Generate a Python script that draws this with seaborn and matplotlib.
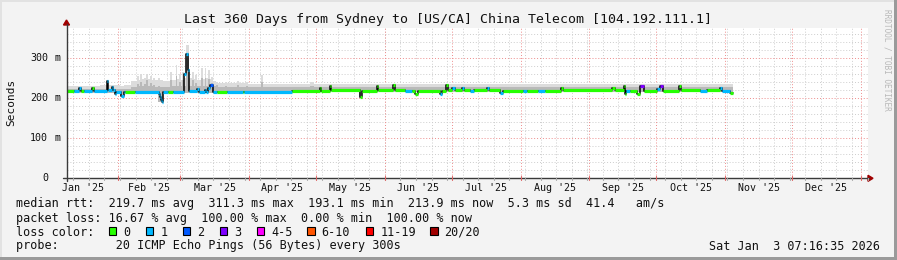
import numpy as np
import pandas as pd
import matplotlib
matplotlib.use("Agg")
import matplotlib.pyplot as plt
import seaborn as sns
from matplotlib.patches import Rectangle, Polygon
from matplotlib.lines import Line2D
from matplotlib.transforms import blended_transform_factory

# ---------------- data (day 0 = 2025-01-01) ----------------
median_day = [8.2, 11.5, 13.5, 14.3, 16.0, 19.3, 20.3, 26.0, 26.6, 28.2, 29.0, 29.6,
              30.3, 32.6, 33.6, 34.2, 38.8, 49.3, 49.9, 50.4, 50.9, 51.4, 53.6, 55.8,
              60.6, 61.5, 62.6, 63.2, 66.4, 67.5, 70.2, 70.8, 71.6, 72.6, 73.8, 75.6,
              80.1, 87.3, 87.8, 109.4, 121.8, 122.5, 126.3, 127.0, 139.8, 140.6, 147.4,
              148.0, 154.6, 155.7, 160.1, 163.3, 164.6, 166.0, 175.9, 176.5, 178.6, 179.2,
              181.2, 182.6, 185.5, 186.5, 189.3, 191.0, 197.0, 198.0, 202.8, 204.1, 213.1,
              215.0, 220.0, 223.0, 230.4, 231.2, 253.0, 254.6, 258.3, 258.8, 259.5, 261.0,
              264.3, 265.8, 267.5, 273.2, 274.6, 276.1, 283.2, 284.2, 292.7, 296.0, 301.7,
              302.7, 306.2]
median_ms = [218, 218, 225, 219, 219, 226, 218, 244, 220, 228, 222, 212,
             217, 207, 217, 217, 217, 212, 203, 196, 192, 217, 217, 217,
             262, 311, 270, 218, 224, 217, 222, 217, 226, 233, 217, 217,
             217, 217, 217, 219, 225, 219, 232, 220, 203, 219, 230,
             220, 234, 220, 218, 219, 211, 219, 212, 219, 234, 220,
             225, 220, 226, 220, 219, 220, 227, 220, 213, 219, 218,
             219, 218, 219, 227, 220, 226, 220, 231, 210, 218, 219,
             210, 230, 219, 224, 230, 219, 232, 220, 219, 220, 225,
             219, 214]
median_loss = [0, 1, 1, 0, 1, 0, 1, 1, 1, 1, 1, 1,
               1, 1, 1, 0, 1, 1, 1, 1, 1, 1, 0, 1,
               1, 1, 1, 1, 1, 1, 1, 1, 1, 2, 1, 0,
               1, 0, 1, 0, 0, 0, 0, 0, 0, 0, 0,
               0, 0, 0, 1, 0, 0, 0, 1, 0, 0, 0,
               1, 0, 1, 0, 1, 0, 1, 0, 1, 0, 1,
               0, 1, 0, 0, 0, 0, 0, 0, 0, 1, 0,
               0, 3, 0, 1, 3, 0, 0, 0, 1, 0, 1,
               1, 0]
data_end_day = 307.5

smoke_day = [8.0, 23.0, 32.0, 34.0, 37.0, 39.5, 40.4, 41.0, 41.9, 42.8, 43.5, 43.7,
             44.6, 45.5, 46.4, 46.8, 47.7, 49.1, 50.0, 51.4, 54.3, 55.2, 57.0, 57.8,
             58.4, 59.3, 60.0, 60.9, 61.6, 62.8, 64.4, 65.2, 65.8, 66.6, 68.5, 69.3,
             70.0, 70.8, 71.5, 72.3, 73.0, 73.8, 75.0, 76.0, 79.0, 80.0, 84.4, 85.3,
             88.4, 89.3, 95.5, 96.3, 108.5, 117.5, 119.3, 139.5, 140.8]
smoke_lo = [214, 214, 205, 214, 214, 214, 214, 214, 214, 214, 214, 214,
            214, 214, 214, 214, 214, 190, 190, 214, 214, 214, 214, 214,
            214, 214, 214, 214, 214, 214, 214, 214, 214, 214, 214, 214,
            214, 214, 214, 214, 214, 214, 214, 214, 214, 214, 214, 214,
            214, 214, 214, 214, 215, 215, 215, 201, 215]
smoke_mid = [224, 224, 223, 224, 228, 236, 230, 242, 230, 236, 230, 245,
             230, 238, 230, 234, 228, 232, 228, 228, 245, 230, 255, 230,
             240, 230, 245, 232, 300, 232, 245, 232, 238, 230, 250, 232,
             250, 232, 248, 232, 238, 230, 234, 228, 232, 228, 234, 228,
             232, 228, 242, 228, 228, 230, 228, 228, 228]
smoke_hi = [231, 233, 232, 233, 244, 255, 246, 262, 248, 252, 246, 262,
            248, 256, 246, 252, 246, 252, 246, 244, 266, 246, 283, 248,
            262, 246, 266, 250, 333, 250, 266, 248, 258, 246, 275, 248,
            275, 250, 271, 248, 254, 244, 242, 238, 240, 238, 244, 238,
            242, 237, 258, 237, 235, 241, 236, 236, 236]

loss_labels = ["0", "1", "2", "3", "4-5", "6-10", "11-19", "20/20"]
loss_colors = ["#26ff00", "#00b8ff", "#0059ff", "#7e00ff", "#ff00ff",
               "#ff5500", "#ff0000", "#a10000"]

month_labels = ["Jan '25", "Feb '25", "Mar '25", "Apr '25", "May '25", "Jun '25",
                "Jul '25", "Aug '25", "Sep '25", "Oct '25", "Nov '25", "Dec '25"]
month_start_day = [0, 31, 59, 90, 120, 151, 181, 212, 243, 273, 304, 334, 365]
first_sunday_day = 4

y_major = [0, 100, 200, 300]
y_major_labels = ["0", "100", "200", "300"]

title = "Last 360 Days from Sydney to [US/CA] China Telecom [104.192.111.1]"
legend_lines = [
    "median rtt:  219.7 ms avg  311.3 ms max  193.1 ms min  213.9 ms now  5.3 ms sd  41.4   am/s",
    "packet loss: 16.67 % avg  100.00 % max  0.00 % min  100.00 % now",
    "loss color:",
    "probe:        20 ICMP Echo Pings (56 Bytes) every 300s",
]
stamp = "Sat Jan  3 07:16:35 2026"
watermark = "RRDTOOL / TOBI OETIKER"

# ---------------- layout ----------------
W, H = 897, 260
MONO = "DejaVu Sans Mono"
sns.set_style("white")
plt.rcParams["font.family"] = [MONO]


def fx(x):
    return x / W


def fy(y):
    return 1 - y / H


fig = plt.figure(figsize=(W / 100, H / 100), dpi=100, facecolor="#f3f3f3")
AX_L, AX_R, AX_T, AX_B = 66.5, 867.5, 27.7, 178.3
ax = fig.add_axes([fx(AX_L), fy(AX_B), (AX_R - AX_L) / W, (AX_B - AX_T) / H])
ax.set_facecolor("white")
X0 = 7.95
ax.set_xlim(X0, X0 + 360)
ax.set_ylim(0, 376.5)
for s in ax.spines.values():
    s.set_visible(False)

# grid
dot = (0, (1, 2))
for d in np.arange(first_sunday_day, X0 + 361, 7):
    if d > X0:
        ax.axvline(d, color="#cdcdcd", lw=0.7, ls=dot, zorder=0.5)
for v in range(20, 377, 20):
    if v % 100:
        ax.axhline(v, color="#cdcdcd", lw=0.7, ls=dot, zorder=0.5)
for d in month_start_day:
    if X0 < d < X0 + 360:
        ax.axvline(d, color="#ee8c8c", lw=0.7, ls=dot, zorder=0.6)
for v in y_major[1:]:
    ax.axhline(v, color="#ee8c8c", lw=0.7, ls=dot, zorder=0.6)

# smoke
sx = smoke_day + [data_end_day]
ax.fill_between(sx, smoke_lo + [smoke_lo[-1]], smoke_hi + [smoke_hi[-1]],
                step="post", color="#dcdcdc", lw=0, zorder=1)
ax.fill_between(sx, smoke_lo + [smoke_lo[-1]], smoke_mid + [smoke_mid[-1]],
                step="post", color="#b9b9b9", lw=0, zorder=1.1)

# median
df = pd.DataFrame({"day": median_day + [data_end_day],
                   "ms": median_ms + [median_ms[-1]]})
sns.lineplot(data=df, x="day", y="ms", drawstyle="steps-post", color="black",
             lw=1.1, ax=ax, estimator=None, sort=False, zorder=3)
ends = median_day[1:] + [data_end_day]
for d0, d1, v, l in zip(median_day, ends, median_ms, median_loss):
    ax.hlines(v, d0, d1, color=loss_colors[l], lw=2.3, zorder=4)
ax.set_xlabel("")
ax.set_ylabel("")
ax.set_xticks([])
ax.set_yticks([])

# axes lines + arrows
axis_col = "#3a3a3a"
fig.add_artist(Line2D([fx(AX_L), fx(AX_L)], [fy(AX_B + 3), fy(24)], color=axis_col, lw=1.0))
fig.add_artist(Line2D([fx(AX_L - 4), fx(869)], [fy(AX_B), fy(AX_B)], color=axis_col, lw=1.0))
fig.add_artist(Polygon([[fx(AX_L - 3), fy(25)], [fx(AX_L + 3), fy(25)], [fx(AX_L), fy(20)]],
                       closed=True, color="#a00000", transform=fig.transFigure))
fig.add_artist(Polygon([[fx(868), fy(AX_B - 3)], [fx(868), fy(AX_B + 3)], [fx(873), fy(AX_B)]],
                       closed=True, color="#a00000", transform=fig.transFigure))

# tick marks under x axis
tx = blended_transform_factory(ax.transData, fig.transFigure)
for d in np.arange(first_sunday_day, X0 + 361, 7):
    if d > X0:
        fig.add_artist(Line2D([d, d], [fy(AX_B), fy(AX_B + 2)], color="#aaaaaa", lw=0.8, transform=tx))
for d in month_start_day:
    if X0 < d < X0 + 360:
        fig.add_artist(Line2D([d, d], [fy(AX_B - 2), fy(AX_B + 2)], color="#dd6666", lw=0.8, transform=tx))

# x labels
for i, lab in enumerate(month_labels):
    mid = (month_start_day[i] + month_start_day[i + 1]) / 2
    fig.text(mid, fy(187.7), lab, transform=tx, ha="center", va="center",
             fontsize=7.2, family=MONO, color="#111")

# y labels
ty = blended_transform_factory(fig.transFigure, ax.transData)
for v, lab in zip(y_major, y_major_labels):
    fig.text(fx(47.9), v, lab, transform=ty, ha="right", va="center", fontsize=7.2, family=MONO, color="#111")
    if v:
        fig.text(fx(54), v, "m", transform=ty, ha="left", va="center", fontsize=7.2, family=MONO, color="#111")

fig.text(fx(11), fy(102), "Seconds", rotation=90, ha="center", va="center",
         fontsize=8.0, family=MONO, color="#111")
fig.text(fx(447.5), fy(19), title, ha="center", va="center", fontsize=9.5, family=MONO, color="#111")
fig.text(fx(887), fy(60), watermark, rotation=-90, ha="center", va="center",
         fontsize=5.6, family=MONO, color="#b8b8b8")

# legend
for yy, line in zip([204, 218.3, 232, 246], legend_lines):
    fig.text(fx(16), fy(yy), line, ha="left", va="center", fontsize=8.5, family=MONO, color="#111")
box_x = [108.7, 145.7, 182.7, 219.7, 256.7, 307.0, 365.7, 430.0]
for bx, lab, col in zip(box_x, loss_labels, loss_colors):
    fig.add_artist(Rectangle((fx(bx), fy(235)), 7.5 / W, 7.8 / H, facecolor=col,
                             edgecolor="black", lw=0.8, transform=fig.transFigure))
    fig.text(fx(bx + 14.5), fy(232), lab, ha="left", va="center", fontsize=8.5, family=MONO, color="#111")
fig.text(fx(880), fy(246), stamp, ha="right", va="center", fontsize=8.5, family=MONO, color="#111")

# frame
fig.add_artist(Rectangle((0, fy(2)), 1, 2 / H, color="#e2e2e2", transform=fig.transFigure, lw=0))
fig.add_artist(Rectangle((0, 0), 2 / W, 1, color="#e2e2e2", transform=fig.transFigure, lw=0))
fig.add_artist(Rectangle((0, 0), 1, 3 / H, color="#9a9a9a", transform=fig.transFigure, lw=0))
fig.add_artist(Rectangle((1 - 3 / W, 0), 3 / W, 1, color="#9a9a9a", transform=fig.transFigure, lw=0))

fig.savefig("out.png", dpi=100, facecolor=fig.get_facecolor())
